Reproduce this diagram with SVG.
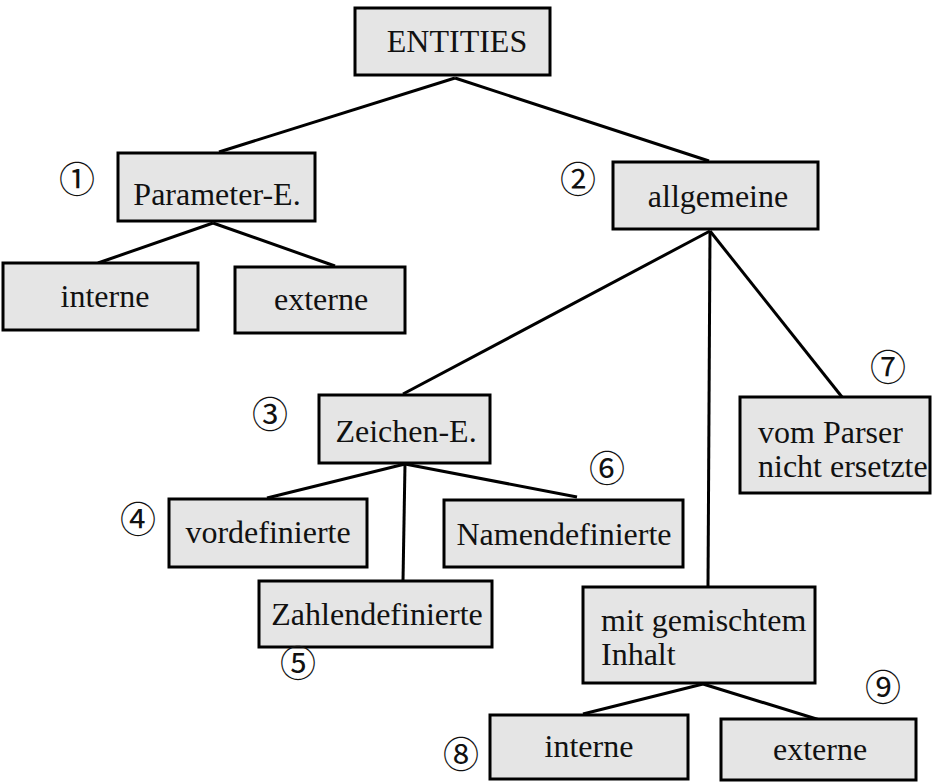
<svg xmlns="http://www.w3.org/2000/svg" width="934" height="782" viewBox="0 0 934 782">
  <style>
    .box { fill: #e5e5e5; stroke: #000; stroke-width: 3; }
    .lbl { font-family: "Liberation Serif", "Times New Roman", serif; font-size: 32px; fill: #111; }
    .mid { text-anchor: middle; }
    .num { font-family: "Noto Sans CJK JP", "DejaVu Sans", sans-serif; font-size: 36px; fill: #111; text-anchor: middle; dominant-baseline: central; }
    .edge { stroke: #000; stroke-width: 3; fill: none; }
  </style>
  <rect width="934" height="782" fill="#fff"/>

  <!-- connectors -->
  <g id="connectors" class="edge">
    <line x1="455" y1="78" x2="219" y2="152"/>
    <line x1="455" y1="78" x2="709" y2="161"/>
    <line x1="213" y1="223" x2="98" y2="263"/>
    <line x1="213" y1="223" x2="335" y2="266"/>
    <line x1="710" y1="231" x2="403" y2="394"/>
    <line x1="710" y1="231" x2="708" y2="587"/>
    <line x1="710" y1="231" x2="842" y2="397"/>
    <line x1="405" y1="464" x2="267" y2="498"/>
    <line x1="405" y1="464" x2="403" y2="581"/>
    <line x1="405" y1="464" x2="577" y2="497"/>
    <line x1="703" y1="684" x2="583" y2="714"/>
    <line x1="703" y1="684" x2="823" y2="721"/>
  </g>

  <g id="entities">
    <rect class="box" x="355" y="8" width="195" height="67"/>
    <text class="lbl mid" x="457" y="52">ENTITIES</text>
  </g>

  <g id="parameter">
    <rect class="box" x="118" y="153" width="197" height="68"/>
    <text class="lbl mid" x="217" y="205">Parameter-E.</text>
    <text class="num" x="77" y="177">①</text>
  </g>

  <g id="param-interne">
    <rect class="box" x="3" y="263" width="195" height="67"/>
    <text class="lbl mid" x="105" y="307">interne</text>
  </g>

  <g id="param-externe">
    <rect class="box" x="235" y="267" width="170" height="66"/>
    <text class="lbl mid" x="321" y="310">externe</text>
  </g>

  <g id="allgemeine">
    <rect class="box" x="613" y="162" width="205" height="67"/>
    <text class="lbl mid" x="718" y="207">allgemeine</text>
    <text class="num" x="578" y="177">②</text>
  </g>

  <g id="zeichen">
    <rect class="box" x="319" y="395" width="171" height="68"/>
    <text class="lbl mid" x="406" y="442">Zeichen-E.</text>
    <text class="num" x="270" y="412">③</text>
  </g>

  <g id="vordefinierte">
    <rect class="box" x="169" y="499" width="198" height="68"/>
    <text class="lbl mid" x="268" y="543">vordefinierte</text>
    <text class="num" x="138" y="517">④</text>
  </g>

  <g id="zahlendefinierte">
    <rect class="box" x="259" y="581" width="233" height="66"/>
    <text class="lbl mid" x="377" y="625">Zahlendefinierte</text>
    <text class="num" x="298" y="661">⑤</text>
  </g>

  <g id="namendefinierte">
    <rect class="box" x="444" y="500" width="239" height="67"/>
    <text class="lbl mid" x="564" y="545">Namendefinierte</text>
    <text class="num" x="607" y="466">⑥</text>
  </g>

  <g id="nicht-ersetzt">
    <rect class="box" x="740" y="397" width="190" height="96"/>
    <text class="lbl" x="758" y="443">vom Parser</text>
    <text class="lbl" x="758" y="477">nicht ersetzte</text>
    <text class="num" x="888" y="365">⑦</text>
  </g>

  <g id="gemischt">
    <rect class="box" x="583" y="587" width="232" height="96"/>
    <text class="lbl" x="601" y="631">mit gemischtem</text>
    <text class="lbl" x="601" y="665">Inhalt</text>
  </g>

  <g id="gemischt-interne">
    <rect class="box" x="490" y="715" width="198" height="64"/>
    <text class="lbl mid" x="589" y="757">interne</text>
    <text class="num" x="461" y="752">⑧</text>
  </g>

  <g id="gemischt-externe">
    <rect class="box" x="721" y="719" width="195" height="61"/>
    <text class="lbl mid" x="820" y="760">externe</text>
    <text class="num" x="883" y="685">⑨</text>
  </g>
</svg>
